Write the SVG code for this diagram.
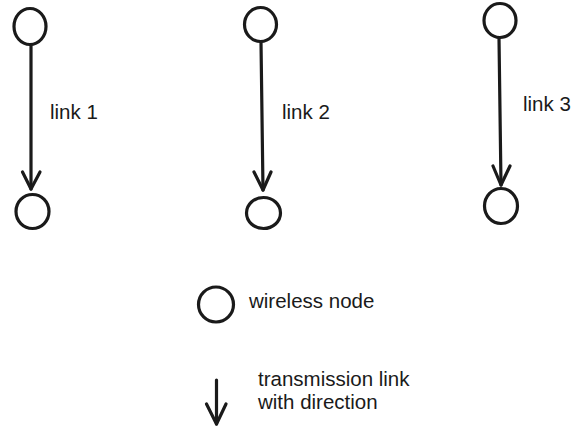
<svg xmlns="http://www.w3.org/2000/svg" width="573" height="430" viewBox="0 0 573 430">
<style>
.node{fill:none;stroke:#1a1a1a;stroke-width:3.2}
.link{fill:none;stroke:#1a1a1a;stroke-width:3.2;stroke-linecap:round;stroke-linejoin:round}
.lbl{font-family:"Liberation Sans",Arial,sans-serif;font-size:20.5px;fill:#1a1a1a}
</style>
<rect width="573" height="430" fill="#ffffff"/>
<g id="node-1a"><ellipse class="node" cx="30" cy="26.5" rx="16" ry="18"/></g>
<g id="node-1b"><ellipse class="node" cx="32.5" cy="211.5" rx="16.5" ry="17"/></g>
<g id="node-2a"><ellipse class="node" cx="260.5" cy="24.5" rx="16" ry="17"/></g>
<g id="node-2b"><ellipse class="node" cx="263.5" cy="213" rx="17" ry="15.5"/></g>
<g id="node-3a"><ellipse class="node" cx="500" cy="20.5" rx="16" ry="17"/></g>
<g id="node-3b"><ellipse class="node" cx="501" cy="206" rx="16.5" ry="17.5"/></g>
<g id="connectors">
<g id="link-1"><path class="link" d="M31,45 L31,189"/><path class="link" d="M22.5,172 L31,189 L40,172"/></g>
<g id="link-2"><path class="link" d="M261,42 L263,190"/><path class="link" d="M254,172 L263,190 L271,172"/></g>
<g id="link-3"><path class="link" d="M499,38 L501,185"/><path class="link" d="M493,166 L501,185 L510,166"/></g>
</g>
<g id="labels">
<text class="lbl" x="50" y="119">link 1</text>
<text class="lbl" x="282" y="119">link 2</text>
<text class="lbl" x="523" y="111">link 3</text>
</g>
<g id="legend-node"><circle class="node" cx="216" cy="304.5" r="17.5"/>
<text class="lbl" x="249" y="308">wireless node</text></g>
<g id="legend-link"><path class="link" d="M216.5,380 L216.5,424"/><path class="link" d="M206.5,404 L216.5,424 L226,404"/>
<text class="lbl" x="258" y="386">transmission link</text>
<text class="lbl" x="258" y="409">with direction</text></g>
</svg>
